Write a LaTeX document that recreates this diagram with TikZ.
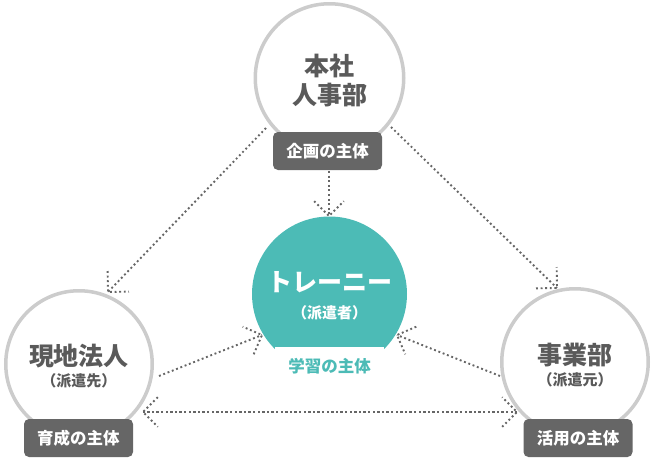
\documentclass[tikz,border=0pt]{standalone}
\usepackage{fontspec}
\setmainfont{Noto Sans CJK JP}
\usetikzlibrary{calc}
\definecolor{tealc}{HTML}{4CBBB6}
\definecolor{ringc}{HTML}{CCCCCC}
\definecolor{boxc}{HTML}{666666}
\definecolor{txtc}{HTML}{5A5A5A}
\definecolor{dotc}{HTML}{666666}
\tikzset{
  ring/.style={circle,draw=ringc,line width=3.5pt,fill=white,inner sep=0pt,outer sep=0pt,minimum size=146.5pt},
  tealdisc/.style={circle,fill=tealc,inner sep=0pt,outer sep=0pt,minimum size=155pt},
  tag/.style={rounded corners=5pt,fill=boxc,text=white,minimum width=109pt,minimum height=38pt,inner sep=0pt,font=\fontsize{16.5}{19}\selectfont\bfseries},
  wtag/.style={fill=white,text=tealc,minimum width=109pt,minimum height=38pt,inner sep=0pt,font=\fontsize{16.5}{19}\selectfont\bfseries},
  big/.style={text=txtc,inner sep=0pt,align=center,font=\fontsize{25}{29}\selectfont\bfseries},
  small/.style={text=txtc,inner sep=0pt,font=\fontsize{15}{17}\selectfont\bfseries},
  dotln/.style={draw=dotc,line width=1.9pt,dash pattern=on 1.9pt off 2.7pt}
}
\newcommand\dotarr[2]{%
  \draw[dotln] (#1) -- (#2);
  \draw[dotln] ($(#2)!21pt!45:(#1)$) -- (#2) -- ($(#2)!21pt!-45:(#1)$);}
\begin{document}
\begin{tikzpicture}[x=1pt,y=-1pt]
\useasboundingbox (0,0) rectangle (657,459);
% endpoints
\coordinate (a1s) at (266,128); \coordinate (a1e) at (108,292);
\coordinate (a2s) at (391,127); \coordinate (a2e) at (557,288);
\coordinate (a3s) at (329,171); \coordinate (a3e) at (329,216);
\coordinate (a4s) at (159,376); \coordinate (a4e) at (262,335);
\coordinate (a5s) at (500,376); \coordinate (a5e) at (397,335);
\coordinate (a6s) at (143,412); \coordinate (a6e) at (517,412);
% connectors
\dotarr{a1s}{a1e}
\dotarr{a2s}{a2e}
\dotarr{a3s}{a3e}
\dotarr{a4s}{a4e}
\dotarr{a5s}{a5e}
\dotarr{a6s}{a6e}
\dotarr{a6e}{a6s}
% circles
\node[ring,minimum size=148.5pt] (hq) at (329.5,78) {};
\node[ring] (loc) at (79,364) {};
\node[ring] (biz) at (575,362) {};
\node[tealdisc] (tr) at (329.5,294) {};
% texts
\node[big] (hqt) at (329.5,81) {本社\\人事部};
\node[big] (loct) at (79,356) {現地法人};
\node[small] (locs) at (79,381) {（派遣先）};
\node[big] (bizt) at (575,355) {事業部};
\node[small] (bizs) at (575,380) {（派遣元）};
\node[big,text=white] (trt) at (329.5,282) {トレーニー};
\node[small,text=white] (trs) at (329.5,313) {（派遣者）};
% tags
\node[tag] (hqtag) at (327.5,151) {企画の主体};
\node[tag] (loctag) at (78.5,438) {育成の主体};
\node[tag] (biztag) at (578,438) {活用の主体};
\node[wtag] (trtag) at (329.5,366) {学習の主体};
\end{tikzpicture}
\end{document}
